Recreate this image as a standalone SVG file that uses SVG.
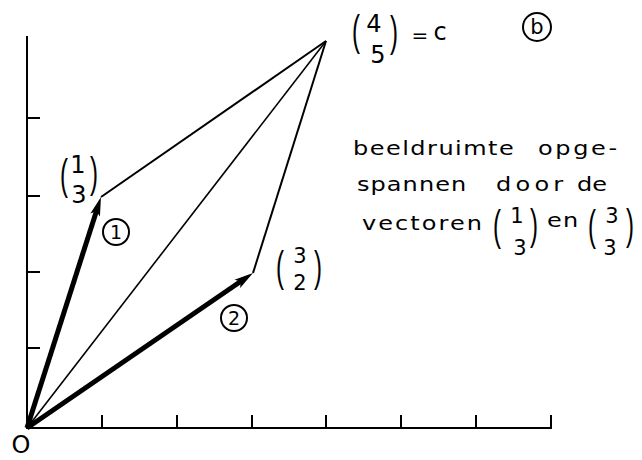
<svg xmlns="http://www.w3.org/2000/svg" width="642" height="460" viewBox="0 0 642 460">
<defs>
<style>
.ax{stroke:#000;stroke-width:2;fill:none}
.thin{stroke:#000;stroke-width:1.6;fill:none}
.side{stroke:#000;stroke-width:2;fill:none}
.vec{stroke:#000;stroke-width:5;fill:none}
.t{font-family:"DejaVu Sans","Liberation Sans",sans-serif;font-size:20px;fill:#000}
.d{font-family:"DejaVu Sans","Liberation Sans",sans-serif;font-size:24px;fill:#000;text-anchor:middle}
.sd{font-family:"DejaVu Sans","Liberation Sans",sans-serif;font-size:19px;fill:#000;text-anchor:middle}
.p{font-family:"Liberation Sans",sans-serif;font-size:24px;fill:#000;text-anchor:middle}
.circ{stroke:#000;stroke-width:2;fill:none}
</style>
<marker id="ah" markerUnits="userSpaceOnUse" refX="0" refY="0" markerWidth="40" markerHeight="40" orient="auto" overflow="visible">
<path d="M12,0 L-7,-5 L-3,0 L-7,5 Z" fill="#000"/>
</marker>
</defs>

<g id="axes">
<path class="ax" d="M27,36 V428 H551 V415"/>
<path class="ax" d="M27,118 H40 M27,196 H40 M27,272 H40 M27,348 H40"/>
<path class="ax" d="M102,428 V415 M177,428 V415 M252,428 V415 M326,428 V415 M401,428 V415 M476,428 V415"/>
</g>

<g id="connectors">
<line class="thin" x1="27" y1="428" x2="326" y2="41"/>
<line class="side" x1="101" y1="197" x2="326" y2="41"/>
<line class="side" x1="253" y1="273" x2="326" y2="41"/>
<line class="vec" x1="27" y1="428" x2="97.3" y2="208.4" marker-end="url(#ah)"/>
<line class="vec" x1="27" y1="428" x2="243.1" y2="279.8" marker-end="url(#ah)"/>
</g>

<g id="origin">
<text class="d" x="21" y="453">O</text>
</g>

<g id="label-c">
<text class="p" transform="translate(356,45) scale(1,1.8)">(</text>
<text class="d" x="374" y="32">4</text>
<text class="d" x="378" y="63">5</text>
<text class="p" transform="translate(394,46) scale(1,1.8)">)</text>
<text class="d" x="420" y="42" style="font-size:20px">=</text>
<text class="d" x="440" y="40">c</text>
</g>

<g id="label-b">
<circle class="circ" cx="537" cy="27" r="14"/>
<text class="sd" x="537" y="34" style="font-size:21px">b</text>
</g>

<g id="label-v1">
<text class="p" transform="translate(64,189) scale(1,1.8)">(</text>
<text class="d" x="78" y="173">1</text>
<text class="d" x="79" y="203">3</text>
<text class="p" transform="translate(94,187) scale(1,1.8)">)</text>
</g>

<g id="marker-1">
<circle class="circ" cx="116" cy="232" r="13"/>
<text class="sd" x="116" y="239">1</text>
</g>

<g id="label-v2">
<text class="p" transform="translate(280,281) scale(1,1.8)">(</text>
<text class="d" x="300" y="263" style="font-size:21px">3</text>
<text class="d" x="300" y="290" style="font-size:21px">2</text>
<text class="p" transform="translate(318,281) scale(1,1.8)">)</text>
</g>

<g id="marker-2">
<circle class="circ" cx="234" cy="318" r="13"/>
<text class="sd" x="234" y="325">2</text>
</g>

<g id="caption">
<text class="t" transform="translate(353,155) scale(1.2,1)" textLength="134" lengthAdjust="spacing">beeldruimte</text>
<text class="t" transform="translate(538,155) scale(1.2,1)" textLength="66" lengthAdjust="spacing">opge-</text>
<text class="t" transform="translate(357,191) scale(1.2,1)" textLength="91" lengthAdjust="spacing">spannen</text>
<text class="t" transform="translate(496,191) scale(1.2,1)" textLength="56" lengthAdjust="spacing">door</text>
<text class="t" transform="translate(577,191) scale(1.2,1)" textLength="25" lengthAdjust="spacing">de</text>
<text class="t" transform="translate(362,230) scale(1.2,1)" textLength="100" lengthAdjust="spacing">vectoren</text>
<text class="p" transform="translate(497,240) scale(1,1.8)">(</text>
<text class="d" x="517" y="223" style="font-size:21px">1</text>
<text class="d" x="520" y="255" style="font-size:21px">3</text>
<text class="p" transform="translate(534,239) scale(1,1.8)">)</text>
<text class="t" transform="translate(547,227) scale(1.2,1)" textLength="26" lengthAdjust="spacing">en</text>
<text class="p" transform="translate(592,240) scale(1,1.8)">(</text>
<text class="d" x="612" y="223" style="font-size:21px">3</text>
<text class="d" x="610" y="255" style="font-size:21px">3</text>
<text class="p" transform="translate(630,239) scale(1,1.8)">)</text>
</g>
</svg>
